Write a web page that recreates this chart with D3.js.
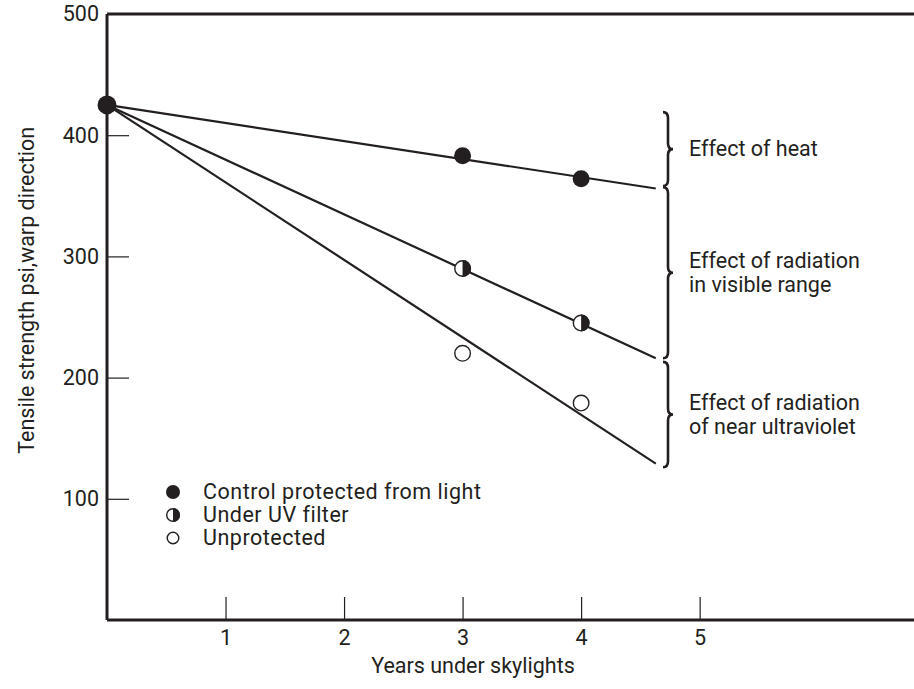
<!DOCTYPE html>
<html>
<head>
<meta charset="utf-8">
<script src="https://cdn.jsdelivr.net/npm/d3@7"></script>
<style>
  body { margin: 0; background: #fff; }
  svg text { font-family: "Roboto", "Liberation Sans", sans-serif; fill: #231f20; }
</style>
</head>
<body>
<div id="chart"></div>
<script>
// data
const years = [3, 4];
const startYear = 0;
const startValue = 425;
const control = [383, 364];
const uvFilter = [290, 245];
const unprotected = [220, 179];

// fitted lines: [start, end] values, ending at fitEndYear
const fitEndYear = 4.63;
const fitControl = [425, 356];
const fitUV = [425, 216];
const fitUnprotected = [425, 129];

const braceRanges = [[419, 358], [357, 216], [213, 126]];
const braceLabels = [
  ["Effect of heat"],
  ["Effect of radiation", "in visible range"],
  ["Effect of radiation", "of near ultraviolet"],
];

const legendLabels = ["Control protected from light", "Under UV filter", "Unprotected"];
const legendKinds = ["full", "half", "open"];

const xTicks = [1, 2, 3, 4, 5];
const yTicks = [100, 200, 300, 400, 500];

// set the dimensions
const width = 914;
const height = 689;
const ink = "#231f20";
const fontSize = 21.5;

const svg = d3.select("#chart").append("svg")
  .attr("width", width)
  .attr("height", height);

const x = d3.scaleLinear().domain([0, 6.8]).range([107, 913]);
const y = d3.scaleLinear().domain([0, 500]).range([620, 14]);

// axes
const yAxis = (g) => g
  .attr("transform", `translate(${x(0)},0)`)
  .call(d3.axisLeft(y).tickValues(yTicks).tickFormat(d3.format("d"))
    .tickSizeInner(-22).tickSizeOuter(0).tickPadding(8))
  .call((g) => g.select(".domain").remove())
  .call((g) => g.selectAll(".tick line").attr("stroke", ink).attr("stroke-width", 1.2)
    .filter((d) => d === 500).remove())
  .call((g) => g.selectAll(".tick text").attr("font-size", fontSize).attr("font-family", null).attr("fill", ink));

const xAxis = (g) => g
  .attr("transform", `translate(0,${y(0)})`)
  .call(d3.axisBottom(x).tickValues(xTicks).tickFormat(d3.format("d"))
    .tickSizeInner(-23).tickSizeOuter(0).tickPadding(10))
  .call((g) => g.select(".domain").remove())
  .call((g) => g.selectAll(".tick line").attr("stroke", ink).attr("stroke-width", 1.2))
  .call((g) => g.selectAll(".tick text").attr("font-size", fontSize).attr("font-family", null).attr("fill", ink));

svg.append("g").call(yAxis);
svg.append("g").call(xAxis);

// frame: left, top and bottom
const frame = svg.append("g").attr("stroke", ink).attr("stroke-width", 3).attr("fill", "none");
frame.append("path").attr("d", `M${x(0)},${y(500)}V${y(0)}`);
frame.append("path").attr("d", `M${x(0)},${y(500)}H${width}`);
frame.append("path").attr("d", `M${x(0)},${y(0)}H${width}`);

// axis titles
svg.append("text")
  .attr("x", 473)
  .attr("y", 673)
  .attr("text-anchor", "middle")
  .attr("font-size", fontSize)
  .text("Years under skylights");

svg.append("text")
  .attr("transform", `translate(34,${y(272)}) rotate(-90)`)
  .attr("text-anchor", "middle")
  .attr("font-size", fontSize)
  .text("Tensile strength psi,warp direction");

// fitted lines
const fits = [fitControl, fitUV, fitUnprotected];
svg.append("g")
  .selectAll("line")
  .data(fits)
  .join("line")
  .attr("x1", x(startYear))
  .attr("y1", (d) => y(d[0]))
  .attr("x2", x(fitEndYear))
  .attr("y2", (d) => y(d[1]))
  .attr("stroke", ink)
  .attr("stroke-width", 2.2);

// markers
function marker(g, kind, r) {
  if (kind === "full") {
    g.append("circle").attr("r", r).attr("fill", ink);
  } else if (kind === "half") {
    g.append("circle").attr("r", r - 0.7).attr("fill", "#fff").attr("stroke", ink).attr("stroke-width", 1.4);
    g.append("path").attr("d", `M0,${-r}A${r},${r} 0 0 1 0,${r}Z`).attr("fill", ink);
  } else {
    g.append("circle").attr("r", r - 0.7).attr("fill", "#fff").attr("stroke", ink).attr("stroke-width", 1.4);
  }
}

const seriesPoints = [
  { kind: "full", values: control },
  { kind: "half", values: uvFilter },
  { kind: "open", values: unprotected },
];

seriesPoints.forEach((s) => {
  s.values.forEach((v, i) => {
    const g = svg.append("g").attr("transform", `translate(${x(years[i])},${y(v)})`);
    marker(g, s.kind, 8.5);
  });
});

const start = svg.append("g").attr("transform", `translate(${x(startYear)},${y(startValue)})`);
marker(start, "full", 9.5);

// braces with labels
const braceX = 668;
function bracePath(y0, y1) {
  const ym = (y0 + y1) / 2;
  const c = 6;
  return `M${braceX - 5},${y0}Q${braceX},${y0} ${braceX},${y0 + c}` +
    `L${braceX},${ym - c}Q${braceX},${ym} ${braceX + 5},${ym}` +
    `Q${braceX},${ym} ${braceX},${ym + c}` +
    `L${braceX},${y1 - c}Q${braceX},${y1} ${braceX - 5},${y1}`;
}

const braces = svg.append("g");
braceRanges.forEach((range, i) => {
  const y0 = y(range[0]);
  const y1 = y(range[1]);
  braces.append("path")
    .attr("d", bracePath(y0, y1))
    .attr("fill", "none")
    .attr("stroke", ink)
    .attr("stroke-width", 2.6);

  const lines = braceLabels[i];
  const ym = (y0 + y1) / 2;
  const lineH = 24;
  const t = braces.append("text")
    .attr("x", 689)
    .attr("y", ym + 7 - (lines.length - 1) * lineH / 2)
    .attr("font-size", fontSize);
  lines.forEach((line, j) => {
    t.append("tspan").attr("x", 689).attr("dy", j === 0 ? 0 : lineH).text(line);
  });
});

// legend
const legend = svg.append("g");
legendLabels.forEach((label, i) => {
  const ly = 492 + i * 23;
  const g = legend.append("g").attr("transform", `translate(173,${ly})`);
  marker(g, legendKinds[i], legendKinds[i] === "open" ? 6.5 : 7);
  legend.append("text")
    .attr("x", 203)
    .attr("y", ly + 7)
    .attr("font-size", fontSize)
    .attr("letter-spacing", 0.5)
    .text(label);
});
</script>
</body>
</html>
